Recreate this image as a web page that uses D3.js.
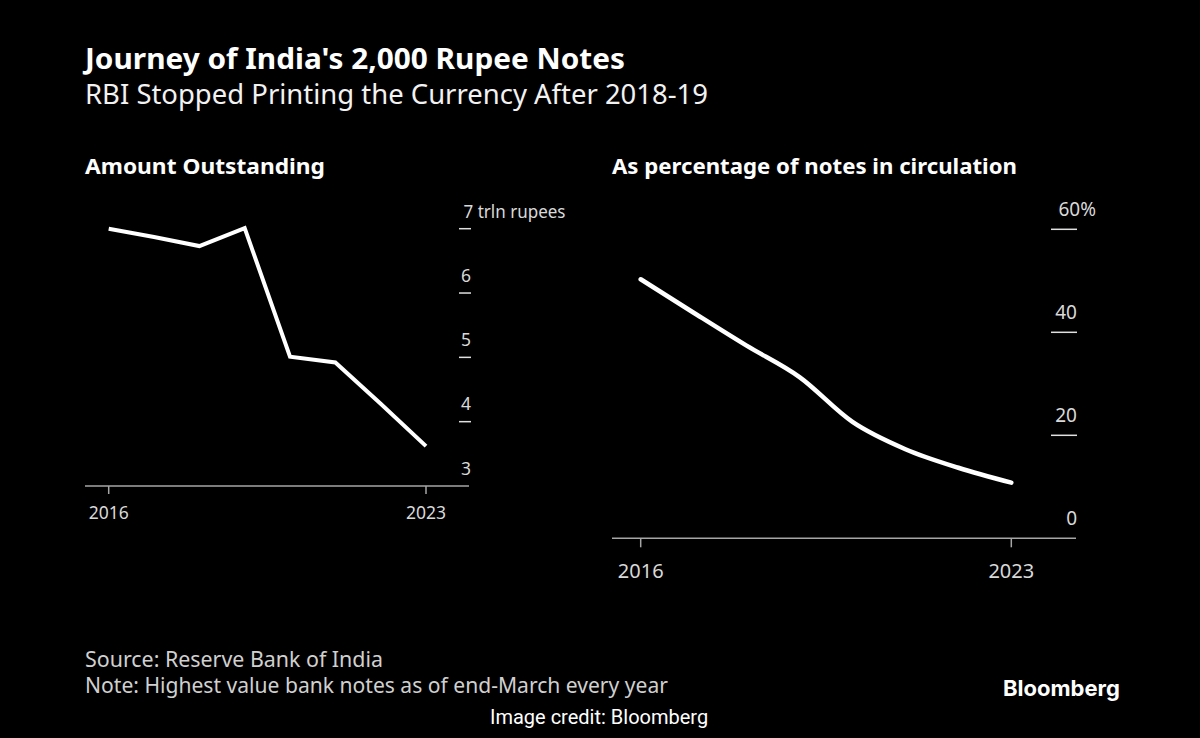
<!DOCTYPE html>
<html>
<head>
<meta charset="utf-8">
<script src="https://cdn.jsdelivr.net/npm/d3@7"></script>
<style>
  html, body { margin: 0; padding: 0; background: #000; }
  svg { display: block; }
</style>
</head>
<body>
<svg id="chart" width="1200" height="738"></svg>
<script>
// ---- Data ----
const years = ["2016", "2017", "2018", "2019", "2020", "2021", "2022", "2023"];
const amountOutstanding = [7.0, 6.87, 6.73, 7.01, 5.01, 4.92, 4.28, 3.62]; // trln rupees
const shareOfCirculation = [50.3, 43.8, 37.4, 31.3, 22.6, 17.3, 13.7, 10.8]; // %
const amountTicks = [3, 4, 5, 6, 7];
const shareTicks = [0, 20, 40, 60];
const xTickLabels = ["2016", "2023"];

const titleText = "Journey of India's 2,000 Rupee Notes";
const subtitleText = "RBI Stopped Printing the Currency After 2018-19";
const leftHeading = "Amount Outstanding";
const rightHeading = "As percentage of notes in circulation";
const sourceText = "Source: Reserve Bank of India";
const noteText = "Note: Highest value bank notes as of end-March every year";
const creditText = "Image credit: Bloomberg";

const FONT = "'Noto Sans', 'Open Sans', sans-serif";
const svg = d3.select("#chart");
svg.append("rect").attr("width", 1200).attr("height", 738).attr("fill", "#000");

function addText(g, txt, x, y, size, weight, fill, width, anchor, family) {
  const t = g.append("text")
    .attr("x", x).attr("y", y)
    .attr("font-family", family || FONT)
    .attr("font-size", size)
    .attr("font-weight", weight)
    .attr("fill", fill)
    .attr("text-anchor", anchor || "start")
    .text(txt);
  if (width) {
    const w = t.node().getComputedTextLength();
    if (Math.abs(w - width) > 2) {
      t.attr("textLength", width).attr("lengthAdjust", "spacingAndGlyphs");
    }
  }
  return t;
}

// ---- Titles ----
addText(svg, titleText, 85, 69, 29, 700, "#ffffff", 540);
addText(svg, subtitleText, 85, 103.5, 27, 400, "#f2f2f2", 623);
addText(svg, leftHeading, 85, 174.3, 22, 700, "#ffffff", 240);
addText(svg, rightHeading, 612, 174.3, 22, 700, "#ffffff", 405);

// ---- Left chart: Amount outstanding ----
const L = svg.append("g");
const xL = d3.scalePoint().domain(years).range([108.7, 426]).padding(0);
const yL = d3.scaleLinear().domain([3, 7]).range([486, 228.7]);

// baseline
L.append("line").attr("x1", 85).attr("x2", 469).attr("y1", yL(3)).attr("y2", yL(3))
  .attr("stroke", "#a6a6a6").attr("stroke-width", 1.5);
// x ticks
xTickLabels.forEach(d => {
  L.append("line").attr("x1", xL(d)).attr("x2", xL(d)).attr("y1", yL(3)).attr("y2", yL(3) + 8)
    .attr("stroke", "#a6a6a6").attr("stroke-width", 1.5);
  addText(L, d, xL(d), 518.5, 17.5, 400, "#d9d9d9", null, "middle");
});
// y ticks
amountTicks.forEach(v => {
  if (v !== 3) {
    L.append("line").attr("x1", 459).attr("x2", 471).attr("y1", yL(v)).attr("y2", yL(v))
      .attr("stroke", "#e0e0e0").attr("stroke-width", 1.5);
  }
  if (v === 7) {
    addText(L, v + " trln rupees", 463.5, yL(v) - 10.5, 17.5, 400, "#d9d9d9", 102, "start");
  } else {
    addText(L, String(v), 471, yL(v) - 11.5, 17.5, 400, "#d9d9d9", null, "end");
  }
});
// line
const lineL = d3.line().x((d, i) => xL(years[i])).y(d => yL(d));
L.append("path").datum(amountOutstanding)
  .attr("d", lineL).attr("fill", "none").attr("stroke", "#ffffff")
  .attr("stroke-width", 4).attr("stroke-linejoin", "miter");

// ---- Right chart: share of circulation ----
const R = svg.append("g");
const xR = d3.scalePoint().domain(years).range([640.7, 1011.3]).padding(0);
const yR = d3.scaleLinear().domain([0, 60]).range([538.3, 229.3]);

R.append("line").attr("x1", 612).attr("x2", 1076).attr("y1", yR(0)).attr("y2", yR(0))
  .attr("stroke", "#a6a6a6").attr("stroke-width", 1.5);
xTickLabels.forEach(d => {
  R.append("line").attr("x1", xR(d)).attr("x2", xR(d)).attr("y1", yR(0)).attr("y2", yR(0) + 9)
    .attr("stroke", "#a6a6a6").attr("stroke-width", 1.5);
  addText(R, d, xR(d), 577.5, 20, 400, "#d9d9d9", null, "middle");
});
shareTicks.forEach(v => {
  if (v !== 0) {
    R.append("line").attr("x1", 1051).attr("x2", 1077).attr("y1", yR(v)).attr("y2", yR(v))
      .attr("stroke", "#e0e0e0").attr("stroke-width", 1.5);
  }
  if (v === 60) {
    addText(R, v + "%", 1096, yR(v) - 13.5, 19, 400, "#d9d9d9", 39, "end");
  } else {
    addText(R, String(v), 1077, yR(v) - 13.5, 19, 400, "#d9d9d9", null, "end");
  }
});
const lineR = d3.line().x((d, i) => xR(years[i])).y(d => yR(d)).curve(d3.curveMonotoneX);
R.append("path").datum(shareOfCirculation)
  .attr("d", lineR).attr("fill", "none").attr("stroke", "#ffffff")
  .attr("stroke-width", 4.5).attr("stroke-linejoin", "round").attr("stroke-linecap", "round");

// ---- Footer ----
addText(svg, sourceText, 85, 666.7, 21, 400, "#d0d0d0", 298);
addText(svg, noteText, 85, 692.5, 21, 400, "#d0d0d0", 583);
addText(svg, creditText, 490, 724, 20, 400, "#ffffff", 220, "start", "Roboto, sans-serif");
addText(svg, "Bloomberg", 1003, 696, 22, 700, "#ffffff", 116, "start", "Inter, 'Open Sans', sans-serif");
</script>
</body>
</html>
